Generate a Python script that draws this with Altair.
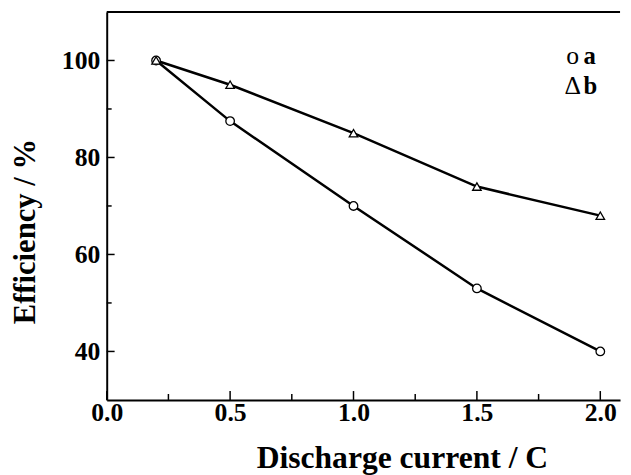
import altair as alt
import pandas as pd

# ---- data ----
currents = [0.2, 0.5, 1.0, 1.5, 2.0]
eff_a = [100, 87.5, 70, 53, 40]
eff_b = [100, 95, 85, 74, 68]
series_names = ["a", "b"]
legend_glyphs = ["o", "\u0394"]
x_major = [0.0, 0.5, 1.0, 1.5, 2.0]
x_minor = [0.25, 0.75, 1.25, 1.75]
y_major = [40, 60, 80, 100]
y_minor = [50, 70, 90]
x_range = [0, 2.08]
y_range = [30, 110]

rows = []
for name, vals in zip(series_names, [eff_a, eff_b]):
    for c, e in zip(currents, vals):
        rows.append({"current": c, "eff": e, "series": name, "role": "data"})
for v in x_major:
    rows.append({"current": v, "eff": y_range[0], "series": "", "role": "xmaj"})
for v in x_minor:
    rows.append({"current": v, "eff": y_range[0], "series": "", "role": "xmin"})
for v in y_major:
    rows.append({"current": x_range[0], "eff": v, "series": "", "role": "ymaj"})
for v in y_minor:
    rows.append({"current": x_range[0], "eff": v, "series": "", "role": "ymin"})
df = pd.DataFrame(rows)

W, H = 520, 393
FONT = "Liberation Serif"
X_TITLE = "Discharge current / C"
Y_TITLE = "Efficiency / %"

xscale = alt.Scale(domain=x_range, nice=False, zero=False)
yscale = alt.Scale(domain=y_range, nice=False, zero=False)

x_axis = alt.Axis(
    orient="bottom", values=x_major, format=".1f", grid=False, ticks=False,
    labelFlush=False, labelOverlap=False,
    domain=True, domainColor="black", domainWidth=2,
    labelFont=FONT, labelFontWeight="bold", labelFontSize=26, labelColor="black",
    labelPadding=0,
    titleFont=FONT, titleFontWeight="bold", titleFontSize=32, titleColor="black",
    titleX=299, titleY=68, titleAlign="center", titleBaseline="alphabetic",
)
y_axis = alt.Axis(
    orient="left", values=y_major, grid=False, ticks=False,
    labelFlush=False, labelOverlap=False,
    domain=True, domainColor="black", domainWidth=2,
    labelFont=FONT, labelFontWeight="bold", labelFontSize=26, labelColor="black",
    labelPadding=7,
    titleFont=FONT, titleFontWeight="bold", titleFontSize=31, titleColor="black",
    titleAngle=270, titleX=-82, titleY=222, titleAlign="center", titleBaseline="middle",
)

def X():
    return alt.X("current:Q", scale=xscale, axis=x_axis, title=X_TITLE)

def Y():
    return alt.Y("eff:Q", scale=yscale, axis=y_axis, title=Y_TITLE)

base = alt.Chart(df)

lines = base.mark_line(color="black", strokeWidth=2.5).encode(
    x=X(), y=Y(), detail="series:N",
).transform_filter("datum.role == 'data'")

def tick_layer(role, path, length):
    return base.mark_point(
        shape=path, filled=False, stroke="black", strokeWidth=1.5,
        size=length * length, opacity=1,
    ).encode(x=X(), y=Y()).transform_filter(f"datum.role == '{role}'")

ticks = [
    tick_layer("xmaj", "M0,0V-2", 9),
    tick_layer("xmin", "M0,0V-2", 6),
    tick_layer("ymaj", "M0,0H2", 8),
    tick_layer("ymin", "M0,0H2", 5),
]

points = base.mark_point(
    filled=True, fill="white", stroke="black", strokeWidth=1.3, size=75, opacity=1
).encode(
    x=X(), y=Y(),
    shape=alt.Shape(
        "series:N",
        scale=alt.Scale(domain=series_names, range=["circle", "triangle-up"]),
        legend=None,
    ),
).transform_filter("datum.role == 'data'")

legend_layers = []
for i, (glyph, name) in enumerate(zip(legend_glyphs, series_names)):
    row = pd.DataFrame({"glyph": [glyph], "name": [name]})
    ypos = 45 + 30 * i
    legend_layers.append(
        alt.Chart(row).mark_text(
            font=FONT, fontSize=26, color="black", align="center", baseline="middle"
        ).encode(text="glyph:N", x=alt.value(472), y=alt.value(ypos))
    )
    legend_layers.append(
        alt.Chart(row).mark_text(
            font=FONT, fontSize=25, fontWeight="bold", color="black",
            align="left", baseline="middle"
        ).encode(text="name:N", x=alt.value(483), y=alt.value(ypos))
    )

border_df = pd.DataFrame({"k": [0]})
top_border = alt.Chart(border_df).mark_rule(color="black", strokeWidth=2).encode(
    x=alt.value(0), x2=alt.value(W), y=alt.value(0)
)

chart = (
    alt.layer(lines, *ticks, points, *legend_layers, top_border)
    .properties(
        width=W, height=H,
        autosize=alt.AutoSizeParams(type="none"),
        padding={"left": 100, "top": 1, "right": 3, "bottom": 73},
        background="white",
    )
    .configure_view(stroke=None)
)

chart.save("out.html", embed_options={"renderer": "svg", "actions": False})
